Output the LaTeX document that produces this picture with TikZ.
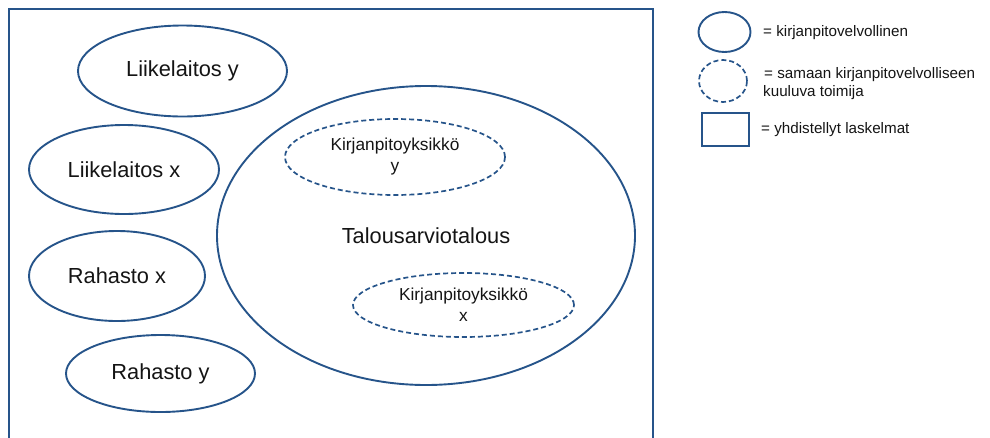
\documentclass[tikz,border=0pt]{standalone}
\usepackage{fontspec}
\setmainfont{Liberation Sans}
\usetikzlibrary{shapes.geometric}
\definecolor{lineblue}{RGB}{38,84,138}
\definecolor{txt}{RGB}{20,20,20}
\tikzset{
  solidell/.style={ellipse, draw=lineblue, line width=1.9pt, inner sep=0pt, text=txt},
  dashell/.style={ellipse, draw=lineblue, line width=1.7pt, dash pattern=on 5pt off 3pt, inner sep=0pt, text=txt, align=center},
  bigfont/.style={font=\fontsize{21.8}{25}\selectfont},
  midfont/.style={font=\fontsize{17.3}{21}\selectfont},
  legfont/.style={font=\fontsize{15.2}{18}\selectfont, text=txt, anchor=west, align=left, inner sep=0pt},
}
\begin{document}
\begin{tikzpicture}[x=1pt,y=-1pt]
\useasboundingbox (0,0) rectangle (990,437);
% outer frame (open at the bottom)
\draw[lineblue, line width=1.9pt] (9,440) -- (9,9) -- (653,9) -- (653,440);
% left column
\node[solidell, bigfont, minimum width=209pt, minimum height=91pt] (ly) at (182.5,71) {Liikelaitos y};
\node[solidell, bigfont, minimum width=190pt, minimum height=89pt] (lx) at (124,169.5) {Liikelaitos x};
\node[solidell, bigfont, minimum width=176pt, minimum height=90pt] (rx) at (117,276) {Rahasto x};
\node[solidell, bigfont, minimum width=189pt, minimum height=77pt] (ry) at (160.5,373.5) {Rahasto y};
% big ellipse
\node[solidell, minimum width=418pt, minimum height=299pt] (tt) at (426,235.5) {};
\node[bigfont, text=txt, inner sep=0pt] (ttl) at (426,236) {Talousarviotalous};
\node[dashell, midfont, minimum width=220pt, minimum height=76pt] (ky) at (395,157) {Kirjanpitoyksikkö\\y};
\node[dashell, midfont, minimum width=221pt, minimum height=64pt] (kx) at (463.5,305) {Kirjanpitoyksikkö\\x};
% legend
\node[solidell, minimum width=52pt, minimum height=40pt] (l1) at (724.5,32) {};
\node[legfont] (t1) at (763,33) {= kirjanpitovelvollinen};
\node[dashell, minimum width=48pt, minimum height=42pt] (l2) at (723,81) {};
\node[legfont] (t2) at (763,84) {\hspace*{1pt}= samaan kirjanpitovelvolliseen\\kuuluva toimija};
\node[rectangle, draw=lineblue, line width=1.9pt, minimum width=47pt, minimum height=33pt, inner sep=0pt] (l3) at (725.5,129.5) {};
\node[legfont] (t3) at (761,130) {= yhdistellyt laskelmat};
\end{tikzpicture}
\end{document}
